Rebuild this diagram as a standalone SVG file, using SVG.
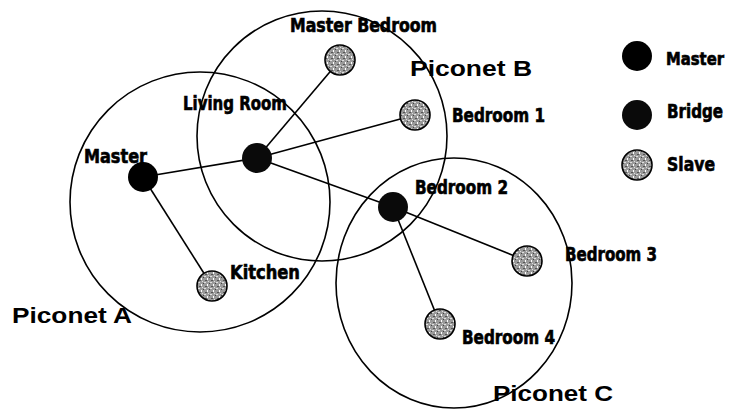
<svg xmlns="http://www.w3.org/2000/svg" width="731" height="412" viewBox="0 0 731 412">
<style>
.piconet{fill:none;stroke:#000;stroke-width:1.6}
.link{stroke:#000;stroke-width:1.6;fill:none}
.master{fill:#000}
.bridge{fill:#0a0a0a}
.slave{fill:url(#speck);stroke:#000;stroke-width:1.6}
.lbl{font-family:"DejaVu Sans Condensed","DejaVu Sans",sans-serif;font-weight:bold;font-size:19px;fill:#000;stroke:#000;stroke-width:0.6}
.net{font-family:"Liberation Sans",Arial,sans-serif;font-weight:bold;font-size:22px;fill:#000}
</style>
<defs>
<pattern id="speck" width="6" height="6" patternUnits="userSpaceOnUse">
<rect width="6" height="6" fill="#9a9a9a"/>
<rect x="0" y="0" width="2" height="1" fill="#e0e0e0"/>
<rect x="3" y="2" width="1" height="2" fill="#ffffff"/>
<rect x="1" y="4" width="2" height="1" fill="#555"/>
<rect x="4" y="5" width="1" height="1" fill="#ddd"/>
<rect x="5" y="1" width="1" height="1" fill="#444"/>
</pattern>
</defs>
<rect width="731" height="412" fill="#fff"/>
<g id="piconets">
<circle id="piconet-a-circle" class="piconet" cx="200" cy="202" r="130"/>
<circle id="piconet-b-circle" class="piconet" cx="322" cy="136" r="125"/>
<ellipse id="piconet-c-circle" class="piconet" cx="454" cy="283" rx="118" ry="125"/>
</g>
<g id="connectors">
<line class="link" x1="143" y1="177" x2="257" y2="158"/>
<line class="link" x1="143" y1="177" x2="212" y2="286"/>
<line class="link" x1="257" y1="158" x2="340" y2="60"/>
<line class="link" x1="257" y1="158" x2="415" y2="115"/>
<line class="link" x1="257" y1="158" x2="393" y2="207"/>
<line class="link" x1="393" y1="207" x2="527" y2="261"/>
<line class="link" x1="393" y1="207" x2="440" y2="324"/>
</g>
<g id="node-master-a"><circle class="master" cx="143" cy="177" r="15"/><text class="lbl" x="84" y="163" textLength="63" lengthAdjust="spacingAndGlyphs">Master</text></g>
<g id="node-living-room"><circle class="bridge" cx="257" cy="158" r="15"/><text class="lbl" x="183" y="110" textLength="104" lengthAdjust="spacingAndGlyphs">Living Room</text></g>
<g id="node-master-bedroom"><circle class="slave" cx="340" cy="60" r="15"/><text class="lbl" x="290" y="32" textLength="147" lengthAdjust="spacingAndGlyphs">Master Bedroom</text></g>
<g id="node-bedroom-1"><circle class="slave" cx="415" cy="115" r="15"/><text class="lbl" x="452" y="122" textLength="93" lengthAdjust="spacingAndGlyphs">Bedroom 1</text></g>
<g id="node-bedroom-2"><circle class="bridge" cx="393" cy="207" r="15"/><text class="lbl" x="415" y="194" textLength="93" lengthAdjust="spacingAndGlyphs">Bedroom 2</text></g>
<g id="node-kitchen"><circle class="slave" cx="212" cy="286" r="15"/><text class="lbl" x="230" y="279" textLength="70" lengthAdjust="spacingAndGlyphs">Kitchen</text></g>
<g id="node-bedroom-3"><circle class="slave" cx="527" cy="261" r="15"/><text class="lbl" x="565" y="261" textLength="92" lengthAdjust="spacingAndGlyphs">Bedroom 3</text></g>
<g id="node-bedroom-4"><circle class="slave" cx="440" cy="324" r="15"/><text class="lbl" x="462" y="344" textLength="93" lengthAdjust="spacingAndGlyphs">Bedroom 4</text></g>
<g id="piconet-labels">
<text class="net" x="410" y="76" textLength="122" lengthAdjust="spacingAndGlyphs">Piconet B</text>
<text class="net" x="12" y="323" textLength="120" lengthAdjust="spacingAndGlyphs">Piconet A</text>
<text class="net" x="493" y="401" textLength="120" lengthAdjust="spacingAndGlyphs">Piconet C</text>
</g>
<g id="legend">
<g id="legend-master"><circle class="master" cx="637" cy="56" r="15"/><text class="lbl" x="666" y="65" style="font-size:17px" textLength="58" lengthAdjust="spacingAndGlyphs">Master</text></g>
<g id="legend-bridge"><circle class="bridge" cx="637" cy="115" r="15"/><text class="lbl" x="667" y="118" textLength="56" lengthAdjust="spacingAndGlyphs">Bridge</text></g>
<g id="legend-slave"><circle class="slave" cx="637" cy="165" r="15"/><text class="lbl" x="667" y="171" textLength="48" lengthAdjust="spacingAndGlyphs">Slave</text></g>
</g>
</svg>
